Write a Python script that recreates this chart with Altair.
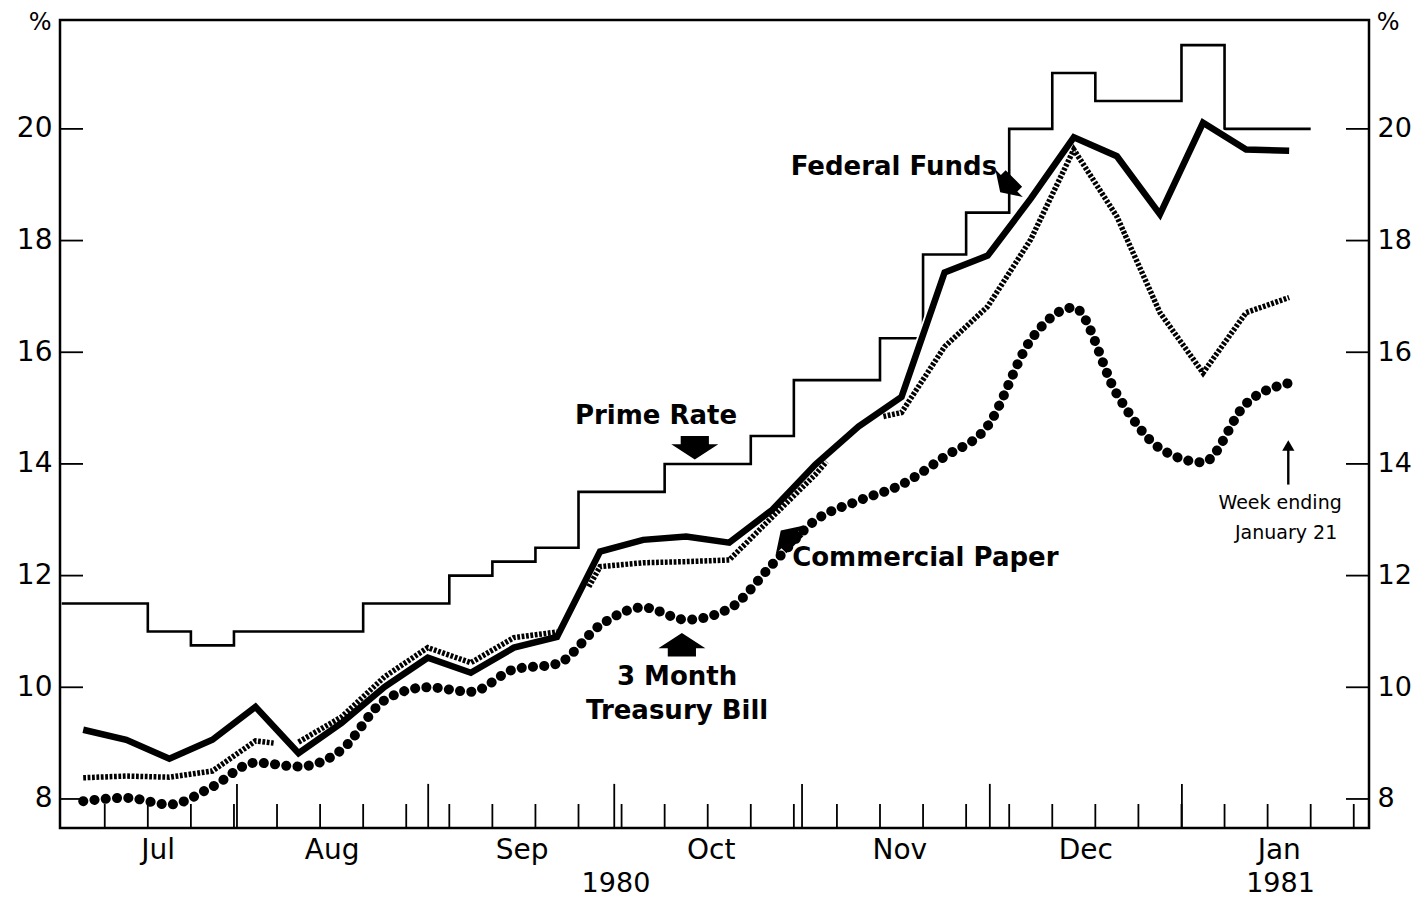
import altair as alt
import pandas as pd

# ---------------- data (weekly, week index 0 = first plotted week, 28 = week ending January 21, 1981)
weeks = list(range(29))
fed_funds = [9.24, 9.06, 8.72, 9.06, 9.65, 8.82, 9.36, 10.01, 10.53, 10.26, 10.71, 10.90,
             12.43, 12.64, 12.70, 12.59, 13.18, 13.99, 14.67, 15.20, 17.43, 17.73, 18.75,
             19.85, 19.51, 18.47, 20.11, 19.63, 19.61]
tbill = [7.96, 8.02, 7.90, 8.22, 8.65, 8.58, 8.88, 9.77, 10.00, 9.92, 10.32, 10.42, 11.11,
         11.43, 11.21, 11.41, 12.20, 12.99, 13.34, 13.63, 14.13, 14.68, 16.22, 16.80, 15.25,
         14.28, 14.03, 15.08, 15.45]
prime = [11.5, 11.5, 11.0, 10.75, 11.0, 11.0, 11.0, 11.5, 11.5, 12.0, 12.25, 12.5, 13.5, 13.5,
         14.0, 14.0, 14.5, 15.5, 15.5, 16.25, 17.75, 18.5, 20.0, 21.0, 20.5, 20.5, 21.5, 20.0, 20.0]
# commercial paper is drawn in separate pieces in the original
cp_week = [0, 1, 2, 3, 4, 4.42,
           5, 6, 7, 8, 9, 10, 11,
           11.74, 12, 13, 14, 15, 16, 17, 17.26,
           18.58, 19, 20, 21, 22, 23, 24, 25, 26, 27, 28]
cp_rate = [8.38, 8.41, 8.39, 8.50, 9.04, 9.00,
           9.02, 9.47, 10.19, 10.71, 10.44, 10.89, 10.99,
           11.80, 12.16, 12.23, 12.25, 12.28, 13.05, 13.81, 14.04,
           14.85, 14.92, 16.10, 16.82, 18.02, 19.63, 18.43, 16.71, 15.63, 16.71, 16.98]
cp_piece = [1] * 6 + [2] * 7 + [3] * 8 + [4] * 11

# axis furniture
y_ticks = [8, 10, 12, 14, 16, 18, 20]
week_ticks = [i + 0.5 for i in range(30)]
month_ticks = [3.57, 8.01, 12.33, 16.69, 21.05, 25.51]
month_names = ["Jul", "Aug", "Sep", "Oct", "Nov", "Dec", "Jan"]
month_pos = [1.74, 5.78, 10.19, 14.58, 18.96, 23.28, 27.77]
year_names = ["1980", "1981"]
year_pos = [12.37, 27.8]

# ---------------- geometry
X0, X1 = -0.539, 29.854
Y0, Y1 = 7.48, 21.95
xs = alt.Scale(domain=[X0, X1], nice=False, zero=False)
ys = alt.Scale(domain=[Y0, Y1], nice=False, zero=False)
FONT = "DejaVu Sans"

ff_df = pd.DataFrame({"week": weeks, "rate": fed_funds})
tb_df = pd.DataFrame({"week": weeks, "rate": tbill})
cp_df = pd.DataFrame({"week": cp_week, "rate": cp_rate, "piece": cp_piece})
pr_df = pd.DataFrame({"week": [w - 0.5 for w in weeks] + [weeks[-1] + 0.5],
                      "rate": prime + [prime[-1]]})


def X():
    return alt.X("week:Q", scale=xs, axis=None)


prime_line = alt.Chart(pr_df).mark_line(
    interpolate="step-after", color="black", strokeWidth=2.6
).encode(x=X(), y=alt.Y("rate:Q", scale=ys, axis=None))

ff_halo = alt.Chart(ff_df).mark_line(color="white", strokeWidth=10).encode(
    x=X(), y=alt.Y("rate:Q", scale=ys, axis=None))

cp_line = alt.Chart(cp_df).mark_line(
    color="black", strokeWidth=5.5, strokeDash=[2.8, 1.6]
).encode(x=X(), y=alt.Y("rate:Q", scale=ys, axis=None), detail="piece:N")

tb_line = alt.Chart(tb_df).mark_line(
    color="black", strokeWidth=10, strokeDash=[0.1, 11.2], strokeCap="round",
    interpolate="monotone"
).encode(
    x=X(),
    y=alt.Y("rate:Q", scale=ys,
            axis=alt.Axis(orient="right", values=y_ticks, tickSize=0, domain=False,
                          grid=False, labelFont=FONT, labelFontSize=27,
                          labelColor="black", labelPadding=8, title=None)))

ff_line = alt.Chart(ff_df).mark_line(
    color="black", strokeWidth=6.5, strokeJoin="miter"
).encode(
    x=X(),
    y=alt.Y("rate:Q", scale=ys,
            axis=alt.Axis(orient="left", values=y_ticks, tickSize=0, domain=False,
                          grid=False, labelFont=FONT, labelFontSize=28,
                          labelColor="black", labelPadding=8, title=None)))

# ---------------- inward ticks
TL = 0.534  # tick length in week units (y ticks)
ytick_df = pd.DataFrame({"y": y_ticks})
ytick_left = alt.Chart(ytick_df).mark_rule(color="black", strokeWidth=1.8).encode(
    x=alt.X("a:Q", scale=xs, axis=None), x2="b:Q",
    y=alt.Y("y:Q", scale=ys, axis=None)
).transform_calculate(a=str(X0), b=str(X0 + TL))
ytick_right = alt.Chart(ytick_df).mark_rule(color="black", strokeWidth=1.8).encode(
    x=alt.X("a:Q", scale=xs, axis=None), x2="b:Q",
    y=alt.Y("y:Q", scale=ys, axis=None)
).transform_calculate(a=str(X1 - TL), b=str(X1))

wk_df = pd.DataFrame({"x": week_ticks})
wk_rule = alt.Chart(wk_df).mark_rule(color="black", strokeWidth=1.8).encode(
    x=alt.X("x:Q", scale=xs, axis=None),
    y=alt.Y("a:Q", scale=ys, axis=None), y2="b:Q"
).transform_calculate(a=str(Y0), b=str(Y0 + 0.43))
mo_df = pd.DataFrame({"x": month_ticks})
mo_rule = alt.Chart(mo_df).mark_rule(color="black", strokeWidth=1.8).encode(
    x=alt.X("x:Q", scale=xs, axis=None),
    y=alt.Y("a:Q", scale=ys, axis=None), y2="b:Q"
).transform_calculate(a=str(Y0), b=str(Y0 + 0.79))


# ---------------- axis-like texts
def texts(df, **kw):
    return alt.Chart(df).mark_text(color="black", **kw).encode(
        x=alt.X("x:Q", scale=xs, axis=None),
        y=alt.Y("y:Q", scale=ys, axis=None),
        text="t:N")


month_txt = texts(pd.DataFrame({"t": month_names, "x": month_pos, "y": [7.06] * 7}),
                  font=FONT, fontSize=28, baseline="middle", align="center")
year_txt = texts(pd.DataFrame({"t": year_names, "x": year_pos, "y": [6.48] * 2}),
                 font=FONT, fontSize=27, baseline="middle", align="center")
pct_txt = texts(pd.DataFrame({"t": ["%", "%"], "x": [-1.0, 30.3], "y": [21.9, 21.9]}),
                font=FONT, fontSize=24, baseline="middle", align="center")

# ---------------- annotations
bold_center = texts(pd.DataFrame({
    "t": ["Prime Rate", "3 Month", "Treasury Bill"],
    "x": [13.30, 13.79, 13.79],
    "y": [14.85, 10.19, 9.58]}),
    font=FONT, fontSize=26, fontWeight="bold", baseline="middle", align="center")
bold_left = texts(pd.DataFrame({"t": ["Commercial Paper"], "x": [16.46], "y": [12.32]}),
                  font=FONT, fontSize=26, fontWeight="bold", baseline="middle", align="left")
bold_right = texts(pd.DataFrame({"t": ["Federal Funds"], "x": [21.22], "y": [19.31]}),
                   font=FONT, fontSize=26, fontWeight="bold", baseline="middle", align="right")
note_txt = texts(pd.DataFrame({"t": ["Week ending", "January 21"],
                               "x": [27.79, 27.93], "y": [13.30, 12.77]}),
                 font=FONT, fontSize=19, baseline="middle", align="center")

UP = "M -0.6 0.5 L 0.6 0.5 L 0.6 0.15 L 1 0.15 L 0 -0.5 L -1 0.15 L -0.6 0.15 Z"
arrows_df = pd.DataFrame({
    "x": [14.20, 13.90, 16.36, 21.45],
    "y": [14.29, 10.76, 12.68, 18.99],
    "ang": [180, 0, 315, 225],
    "sz": [2209, 2209, 1600, 1500]})
arrows = alt.Chart(arrows_df).mark_point(
    shape=UP, filled=True, color="black", opacity=1, strokeWidth=0
).encode(
    x=alt.X("x:Q", scale=xs, axis=None),
    y=alt.Y("y:Q", scale=ys, axis=None),
    angle=alt.Angle("ang:Q", scale=None),
    size=alt.Size("sz:Q", scale=None, legend=None))

thin_df = pd.DataFrame({"x": [27.98], "y0": [13.63], "y1": [14.30], "yt": [14.33]})
thin_rule = alt.Chart(thin_df).mark_rule(color="black", strokeWidth=2.4).encode(
    x=alt.X("x:Q", scale=xs, axis=None),
    y=alt.Y("y0:Q", scale=ys, axis=None), y2="y1:Q")
thin_head = alt.Chart(thin_df).mark_point(
    shape="triangle-up", filled=True, color="black", opacity=1, size=150, strokeWidth=0
).encode(x=alt.X("x:Q", scale=xs, axis=None), y=alt.Y("yt:Q", scale=ys, axis=None))

chart = alt.layer(
    prime_line, ff_halo, cp_line, tb_line, ff_line,
    ytick_left, ytick_right, wk_rule, mo_rule,
    month_txt, year_txt, pct_txt,
    bold_center, bold_left, bold_right, note_txt,
    arrows, thin_rule, thin_head
).resolve_axis(y="independent").properties(
    width=1309, height=808,
    autosize=alt.AutoSizeParams(type="none"),
    padding={"left": 52, "top": 12, "right": 48, "bottom": 72}
).configure_view(stroke="black", strokeWidth=2.5)

chart.save("out.html", embed_options={"renderer": "svg", "actions": False})
